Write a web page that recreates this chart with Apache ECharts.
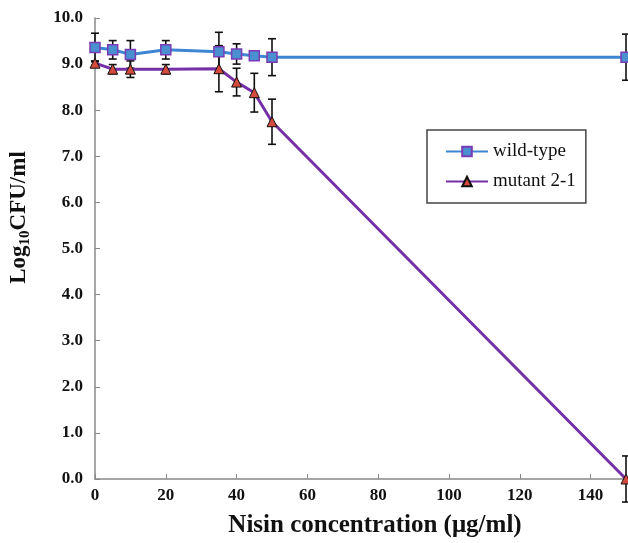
<!DOCTYPE html>
<html>
<head>
<meta charset="utf-8">
<script src="https://cdn.jsdelivr.net/npm/echarts@6/dist/echarts.min.js"></script>
<style>
  html, body { margin: 0; padding: 0; background: #fff; }
  #main { width: 628px; height: 543px; }
</style>
</head>
<body>
<div id="main"></div>
<script>
var myChart = echarts.init(document.getElementById('main'));

// data
var nisin = [0, 5, 10, 20, 35, 40, 45, 50, 150];
var wildType = [9.36, 9.31, 9.21, 9.31, 9.27, 9.22, 9.18, 9.15, 9.15];
var wildErr = [0.31, 0.2, 0.3, 0.2, 0.42, 0.22, 0.05, 0.4, 0.5];
var mutant = [9.02, 8.89, 8.89, 8.89, 8.9, 8.61, 8.38, 7.75, 0];
var mutErr = [0.05, 0.1, 0.18, 0.1, 0.5, 0.3, 0.42, 0.49, 0.5];
var seriesNames = ['wild-type', 'mutant 2-1'];

var serif = 'Liberation Serif';

function pairs(ys) {
  return nisin.map(function (x, i) { return [x, ys[i]]; });
}
function errData(ys, es) {
  return nisin.map(function (x, i) { return [x, ys[i], es[i]]; });
}

// draws a vertical error bar with caps
function errorBar(params, api) {
  var x = api.value(0), y = api.value(1), e = api.value(2);
  var top = api.coord([x, y + e]);
  var bot = api.coord([x, y - e]);
  var w = 4;
  var st = { stroke: '#111', lineWidth: 1.6 };
  return {
    type: 'group',
    children: [
      { type: 'line', shape: { x1: top[0], y1: top[1], x2: bot[0], y2: bot[1] }, style: st },
      { type: 'line', shape: { x1: top[0] - w, y1: top[1], x2: top[0] + w, y2: top[1] }, style: st },
      { type: 'line', shape: { x1: bot[0] - w, y1: bot[1], x2: bot[0] + w, y2: bot[1] }, style: st }
    ]
  };
}

var option = {
  animation: false,
  grid: { left: 95, right: 2, top: 18, bottom: 64, outerBoundsMode: 'none' },
  legend: {
    orient: 'vertical',
    left: 427,
    top: 130,
    padding: [12, 10, 12, 18],
    itemGap: 11,
    itemWidth: 42,
    itemHeight: 12,
    borderColor: '#444',
    borderWidth: 1.5,
    textStyle: { fontFamily: serif, fontSize: 19, color: '#111' },
    data: seriesNames
  },
  xAxis: {
    type: 'value',
    min: 0,
    max: 150,
    interval: 20,
    name: 'Nisin concentration (μg/ml)',
    nameLocation: 'middle',
    nameGap: 34,
    nameTextStyle: { fontFamily: serif, fontSize: 25, fontWeight: 'bold', color: '#111', padding: [0, 0, 0, 29] },
    splitLine: { show: false },
    axisLine: { lineStyle: { color: '#888', width: 1.5 } },
    axisTick: { inside: true, length: 5, lineStyle: { color: '#888' } },
    axisLabel: { showMaxLabel: false, margin: 8, fontFamily: serif, fontSize: 17, fontWeight: 'bold', color: '#111' }
  },
  yAxis: {
    type: 'value',
    min: 0,
    max: 10,
    interval: 1,
    name: '{a|Log}{b|10}{a|CFU/ml}',
    nameLocation: 'middle',
    nameGap: 62,
    nameTextStyle: {
      padding: [0, 0, 0, 62],
      rich: {
        a: { fontFamily: serif, fontSize: 23, fontWeight: 'bold', color: '#111', lineHeight: 28 },
        b: { fontFamily: serif, fontSize: 15, fontWeight: 'bold', color: '#111', verticalAlign: 'bottom', lineHeight: 28 }
      }
    },
    splitLine: { show: false },
    axisLine: { show: true, lineStyle: { color: '#888', width: 1.5 } },
    axisTick: { show: true, inside: true, length: 5, lineStyle: { color: '#888' } },
    axisLabel: {
      margin: 12,
      fontFamily: serif, fontSize: 17, fontWeight: 'bold', color: '#111',
      formatter: function (v) { return v.toFixed(1); }
    }
  },
  series: [
    {
      type: 'custom',
      renderItem: errorBar,
      data: errData(wildType, wildErr),
      z: 1,
      silent: true
    },
    {
      type: 'custom',
      renderItem: errorBar,
      data: errData(mutant, mutErr),
      z: 1,
      silent: true
    },
    {
      name: seriesNames[0],
      type: 'line',
      data: pairs(wildType),
      symbol: 'rect',
      symbolSize: 10,
      z: 3,
      lineStyle: { color: '#3f86d2', width: 3 },
      itemStyle: { color: '#4a8fd0', borderColor: '#7b3bb5', borderWidth: 1.5 }
    },
    {
      name: seriesNames[1],
      type: 'line',
      data: pairs(mutant),
      symbol: 'triangle',
      symbolSize: 10,
      z: 3,
      lineStyle: { color: '#7530a8', width: 3 },
      itemStyle: { color: '#d44a3c', borderColor: '#111', borderWidth: 1 }
    }
  ]
};
myChart.setOption(option);
</script>
</body>
</html>
